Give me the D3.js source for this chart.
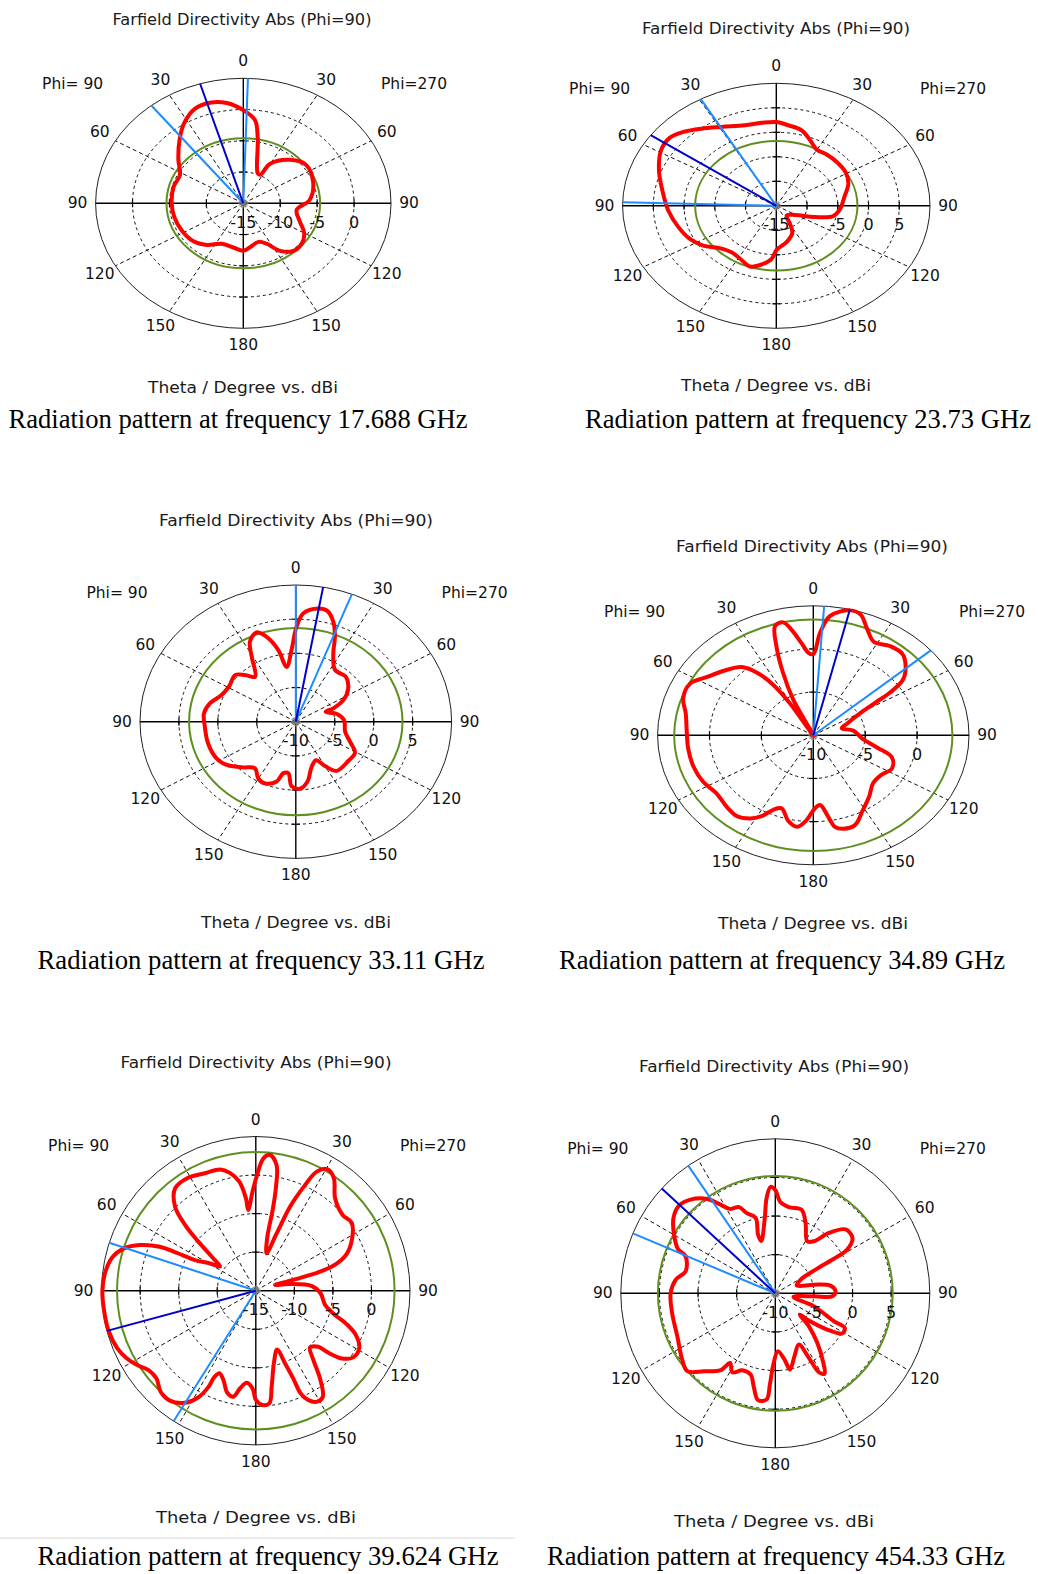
<!DOCTYPE html>
<html>
<head>
<meta charset="utf-8">
<script src="https://cdn.jsdelivr.net/npm/d3@7"></script>
<style>
  body { margin: 0; background: #fff; }
  svg { display: block; }
</style>
</head>
<body>
<div id="chart"></div>
<script>
const width = 1038;
const height = 1574;

// ---- data (theta in display degrees, clockwise from top; value in dBi) ----
const frequencies = ["17.688", "23.73", "33.11", "34.89", "39.624", "454.33"];
const dbMin = [-15, -15, -10, -10, -15, -10];
const dbMax = [5, 10, 10, 5, 5, 10];
const radialLabels = [
    [-15, -10, -5, 0],
    [-15, -5, 0, 5],
    [-10, -5, 0, 5],
    [-10, -5, 0],
    [-15, -10, -5, 0],
    [-10, -5, 0, 5]
];
const thetaLabels = [0, 30, 60, 90, 120, 150, 180];
const mainLobe = [343, 305.2, 10.1, 13.6, 254.9, 312.7];
const beamEdges = [[321.5, 1.8], [330.6, 271.7], [0, 21.1], [4.0, 49.0], [288.1, 212.2], [325.7, 292.8]];
const greenLevel = [-4.6, -1.8, 3.7, 3.4, 3.0, 5.2];

const pattern1 = [
    [352, 1.2], [0, -0.1], [6.8, -1.6], [10.6, -4.4], [22, -9.8], [26.5, -9.9], [29.9, -7.7],
    [42.3, -5.6], [54.4, -4.5], [71.3, -5.0], [86.6, -6.0], [98.4, -7.7], [110.9, -6.8],
    [119.8, -5.5], [129, -4.8], [138.2, -4.8], [146.8, -5.9], [154, -7.8], [161.6, -8.5],
    [172.7, -7.9], [180, -7.4], [190.9, -7.8], [204.3, -7.9], [216.7, -6.7], [228.4, -5.9],
    [242.4, -5.6], [257.2, -5.4], [270, -5.3], [285.7, -5.2], [297.9, -5.3], [308.3, -3.8],
    [319.5, -1.7], [327.9, 0.1], [336.7, 1.5], [344.3, 1.7]
];
const pattern2 = [
    [0, 2.1], [6.8, 1.55], [15, 0.95], [22, -0.45], [29.7, -1.75], [38, -1.7], [47.7, -1.7],
    [58.6, -1.8], [69, -2.45], [80.9, -3.8], [93.5, -4.6], [102.8, -5.5], [110, -8.3],
    [121.5, -11.4], [139.7, -12.4], [148.8, -10.7], [155, -8.85], [167.3, -7.4], [179.7, -6.0],
    [184, -4.15], [191.2, -2.8], [199, -1.9], [208.6, -2.7], [217.5, -3.05], [227.7, -2.25],
    [235.7, -0.6], [244.3, 0.6], [254.7, 1.5], [266.9, 2.6], [279.6, 3.8], [290.7, 5.4],
    [301.1, 6.9], [308.8, 7.2], [314.9, 6.35], [322.3, 4.9], [331, 3.4], [342.7, 2.2], [352, 2.1]
];
const pattern3 = [
    [3.5, 5.9], [9.9, 6.8], [14, 6.7], [18.2, 5.4], [22, 3.4], [25.7, 1.1], [33.6, -0.9],
    [44.4, -0.8], [54.1, -1.7], [62.5, -3.1], [67.9, -4.8], [69.4, -5.9], [77.9, -4.6],
    [87.8, -3.8], [103, -3.5], [112.8, -2.45], [120.9, -1.15], [130.5, -1.15], [143.9, -1.1],
    [150, -2.5], [155.3, -3.8], [162.8, -3.1], [170.4, -1.1], [176.8, -0.2], [183.3, -0.55],
    [187.2, -2.4], [192, -2.3], [195.7, -0.9], [203.7, -0.15], [210.1, -0.4], [217.5, -1.4],
    [225.3, -0.5], [234.5, 0.9], [242.2, 1.5], [254.2, 1.7], [266.4, 1.7], [275.9, 1.85],
    [283.7, 1.35], [292.3, 0.3], [301, 0.0], [311.2, 0.35], [316.3, -0.55], [321.5, -1.6],
    [329.3, 1.1], [333.3, 3.1], [338.9, 4.0], [343.9, 2.7], [347.9, 0.7], [351.7, -1.9],
    [357, 0.5], [0.4, 3.9]
];
const pattern4 = [
    [0, -0.6], [3.1, 1.85], [6.6, 3.9], [13.8, 4.9], [18.1, 4.7], [22.9, 3.35], [28.3, 2.3],
    [35.5, 2.7], [42.3, 2.75], [48.4, 1.9], [53.5, 0.7], [56.2, -1.1], [57.6, -2.8], [60.5, -4.8],
    [67.6, -6.5], [73.5, -7.15], [82, -6.1], [94.2, -5.3], [102.9, -3.7], [108.7, -2.0],
    [116.8, -1.5], [125, -2.0], [134, -2.0], [142.8, -1.1], [151.2, -0.1], [158.9, 1.15],
    [165, 1.2], [168.9, 0.8], [171.3, -0.45], [175.4, -1.9], [179.6, -1.4], [183.8, -0.15],
    [188.3, 0.7], [193.7, 0.2], [199.8, -1.0], [204.3, -0.5], [208, 0.6], [212.4, 1.4],
    [218.3, 1.9], [225.3, 1.75], [234.4, 1.5], [243.1, 1.9], [252.6, 2.1], [262.9, 2.15],
    [272, 2.2], [281.7, 2.55], [288.9, 3.25], [296.6, 3.3], [303.2, 2.3], [311.4, 1.35],
    [318.8, 0.5], [323.1, -0.9], [326.3, -2.75], [328.7, -5.65], [331, -10], [334.9, -5.5],
    [338, -2.25], [341, 0.9], [343.8, 3.2], [347.5, 3.4], [350.3, 2.4], [354, 0.7], [357.1, -0.4]
];
const pattern5 = [
    [0.4, -0.2], [3.3, 2.2], [6, 2.7], [9.4, 1.5], [11, -1.25], [11.8, -4.3], [12.1, -7.85],
    [16.1, -9.95], [20, -7.1], [22.2, -3.2], [24.7, -0.25], [27.1, 2.35], [30.6, 3.3],
    [34.8, 2.75], [40.6, 0.8], [48.9, -0.05], [54.7, 0.25], [62.1, -0.9], [68, -2.3],
    [71.6, -4.05], [73.5, -6.3], [73.9, -8.8], [73.8, -10.8], [73.4, -12.4], [79, -10.5],
    [85.3, -7.7], [92.3, -6.6], [101.7, -5.8], [107.1, -4.25], [110.2, -2.45], [113.9, -0.8],
    [119.1, 0.35], [124.4, 0.3], [128.2, -0.8], [130.5, -2.6], [131.9, -4.1], [136.4, -4.8],
    [140.3, -3.3], [143.8, -0.9], [147.8, 1.3], [151, 1.45], [154.3, 0.75], [156.4, -0.45],
    [156.9, -2.6], [158.1, -4.85], [160, -6.9], [166, -5.3], [170.6, -2.4], [173.1, -0.3],
    [176.6, -0.15], [179.9, -0.8], [181.9, -2.3], [185.6, -3.0], [189.2, -2.15], [192, -0.95],
    [195.6, -1.25], [200, -2.7], [203.8, -3.3], [205.7, -2.5], [206.2, -1.1], [208.3, 0.7],
    [212.3, 2.2], [218, 3.1], [223.3, 3.0], [228.5, 2.2], [233.5, 2.3], [238.1, 3.2],
    [242.4, 3.9], [247.4, 4.45], [255.1, 4.8], [262.8, 4.85], [269.7, 4.9], [276.5, 4.7],
    [283.1, 4.1], [287.8, 2.95], [291.5, 1.15], [294.6, -1.3], [295.7, -3.8], [296.7, -6.15],
    [300.8, -8.1], [303.9, -9.4], [307.7, -7.8], [310.5, -5.2], [312.9, -2.5], [316.1, 0.1],
    [321.7, 1.9], [328.4, 2.1], [336.6, 1.6], [343.6, 1.4], [347.6, 0.65], [351.4, -0.7],
    [353.9, -2.95], [354.6, -4.5], [358.1, -2.15]
];
const pattern6 = [
    [357.5, 3.8], [0.2, 3.3], [2.9, 1.9], [8.9, 1.3], [17.4, 1.35], [23.3, -0.1], [31.6, -2.1],
    [36.6, -1.6], [41.6, 0.45], [47.8, 2.3], [54.3, 2.3], [58.7, 0.9], [59.4, -1.4],
    [59.6, -3.95], [61.8, -6.3], [70, -7.05], [77.4, -4.9], [82.1, -2.8], [88.1, -2.2],
    [93, -2.6], [94.3, -5.0], [101.6, -7.6], [108.6, -4.7], [115.5, -1.6], [116.5, 0.05],
    [121, 0.1], [124.9, -1.8], [129.4, -4.6], [130.8, -5.8], [134.5, -3.9], [139.7, -1.6],
    [145.4, 0.95], [148.5, 2.2], [151, 1.7], [152.5, -0.55], [155.3, -2.7], [163, -1.5],
    [169.1, 0.05], [172, -1.3], [177.4, -2.5], [181.6, -0.75], [183.4, 1.85], [184.7, 3.8],
    [189.2, 4.0], [192.7, 2.55], [196.9, 1.0], [203.2, 0.85], [208.5, 1.65], [213, 0.75],
    [215.4, 2.2], [222.5, 3.7], [228.5, 5.2], [234.5, 4.8], [246.3, 3.85], [259.2, 3.6],
    [270, 3.55], [277.8, 3.0], [283.8, 1.95], [292.4, 2.55], [294.5, 3.85], [300.1, 5.15],
    [306.5, 6.4], [312.3, 6.85], [317.9, 6.35], [324.2, 5.05], [328.3, 3.5], [331.8, 2.4],
    [337.2, 2.1], [340.3, 1.05], [345.4, 0.1], [343.6, -2.1], [344.9, -3.0], [351.8, -0.35],
    [354.8, 2.4]
];
const patterns = [pattern1, pattern2, pattern3, pattern4, pattern5, pattern6];

// ---- layout of the six panels ----
const panels = [
    { cx: 243.3, cy: 203.3, rx: 147.7, ry: 125.0, title: [242, 25, 259], xlab: [243, 393, 190], cap: [238, 428, 459, 27] },
    { cx: 776.3, cy: 205.8, rx: 153.7, ry: 122.5, title: [776, 34, 268], xlab: [776, 391, 190], cap: [808, 428, 446, 27] },
    { cx: 295.8, cy: 721.7, rx: 155.8, ry: 136.7, title: [296, 526, 274], xlab: [296, 928, 190], cap: [261, 969, 447, 27] },
    { cx: 813.3, cy: 735.3, rx: 155.7, ry: 129.5, title: [812, 552, 272], xlab: [813, 929, 190], cap: [782, 969, 446, 27] },
    { cx: 255.8, cy: 1290.7, rx: 154.2, ry: 154.2, title: [256, 1068, 271], xlab: [256, 1523, 200], cap: [268, 1565, 461, 28] },
    { cx: 775.3, cy: 1293.3, rx: 154.5, ry: 154.5, title: [774, 1072, 270], xlab: [774, 1527, 200], cap: [776, 1565, 458, 28] }
];

const angle = d3.scaleLinear().domain([0, 360]).range([0, 2 * Math.PI]);
const uiFont = "'DejaVu Sans', Verdana, sans-serif";

const svg = d3.select("#chart")
    .append("svg")
    .attr("width", width)
    .attr("height", height);

svg.append("rect").attr("width", width).attr("height", height).attr("fill", "#fff");

// faint separator under the lower left panel
svg.append("line")
    .attr("x1", 0).attr("x2", 515).attr("y1", 1538).attr("y2", 1538)
    .attr("stroke", "#e4e4e4").attr("stroke-width", 1.5);

panels.forEach((p, i) => drawPanel(p, i));

function drawPanel(p, i) {
    const g = svg.append("g");
    const r = d3.scaleLinear().domain([dbMin[i], dbMax[i]]).range([0, 1]).clamp(true);
    const rings = d3.range(dbMin[i] + 5, dbMax[i], 5);
    const spokes = [30, 60, 120, 150, 210, 240, 300, 330];

    // point on the (elliptical) polar grid, k = normalised radius
    const at = (a, k) => {
        const t = angle(a);
        return [p.cx + p.rx * k * Math.sin(t), p.cy - p.ry * k * Math.cos(t)];
    };

    // dashed rings
    g.selectAll(".ring")
        .data(rings)
        .join("ellipse")
        .attr("class", "ring")
        .attr("cx", p.cx).attr("cy", p.cy)
        .attr("rx", d => p.rx * r(d))
        .attr("ry", d => p.ry * r(d))
        .attr("fill", "none")
        .attr("stroke", "#111")
        .attr("stroke-width", 1)
        .attr("stroke-dasharray", "3,3");

    // dashed spokes
    g.selectAll(".spoke")
        .data(spokes)
        .join("line")
        .attr("class", "spoke")
        .attr("x1", p.cx).attr("y1", p.cy)
        .attr("x2", d => at(d, 1)[0])
        .attr("y2", d => at(d, 1)[1])
        .attr("stroke", "#111")
        .attr("stroke-width", 1)
        .attr("stroke-dasharray", "4,3");

    // outer boundary
    g.append("ellipse")
        .attr("cx", p.cx).attr("cy", p.cy)
        .attr("rx", p.rx).attr("ry", p.ry)
        .attr("fill", "none")
        .attr("stroke", "#222")
        .attr("stroke-width", 1);

    // main axes
    [0, 90].forEach(a => {
        const p1 = at(a, 1), p2 = at(a + 180, 1);
        g.append("line")
            .attr("x1", p1[0]).attr("y1", p1[1])
            .attr("x2", p2[0]).attr("y2", p2[1])
            .attr("stroke", "#000")
            .attr("stroke-width", 1.4);
    });

    // small ticks on the axes at each ring
    const tickData = [];
    rings.forEach(v => [0, 90, 180, 270].forEach(a => tickData.push({ a, v })));
    g.selectAll(".tick")
        .data(tickData)
        .join("line")
        .attr("class", "tick")
        .attr("x1", d => at(d.a, r(d.v))[0] - (d.a % 180 === 0 ? 4 : 0))
        .attr("x2", d => at(d.a, r(d.v))[0] + (d.a % 180 === 0 ? 4 : 0))
        .attr("y1", d => at(d.a, r(d.v))[1] - (d.a % 180 === 0 ? 0 : 4))
        .attr("y2", d => at(d.a, r(d.v))[1] + (d.a % 180 === 0 ? 0 : 4))
        .attr("stroke", "#000")
        .attr("stroke-width", 1.2);

    // little star at the centre
    g.selectAll(".star")
        .data(d3.range(0, 180, 22.5))
        .join("line")
        .attr("class", "star")
        .attr("x1", d => p.cx - 5 * Math.sin(angle(d)))
        .attr("y1", d => p.cy + 5 * Math.cos(angle(d)))
        .attr("x2", d => p.cx + 5 * Math.sin(angle(d)))
        .attr("y2", d => p.cy - 5 * Math.cos(angle(d)))
        .attr("stroke", "#8a8a8a")
        .attr("stroke-width", 0.8);

    // green level circle
    g.append("ellipse")
        .attr("cx", p.cx).attr("cy", p.cy)
        .attr("rx", p.rx * r(greenLevel[i]))
        .attr("ry", p.ry * r(greenLevel[i]))
        .attr("fill", "none")
        .attr("stroke", "#5f8f1f")
        .attr("stroke-width", 2);

    // pattern
    const line = d3.line()
        .x(d => at(d[0], r(d[1]))[0])
        .y(d => at(d[0], r(d[1]))[1])
        .curve(d3.curveCatmullRomClosed.alpha(0.5));

    g.append("path")
        .datum(patterns[i])
        .attr("d", line)
        .attr("fill", "none")
        .attr("stroke", "#ff0000")
        .attr("stroke-width", 4)
        .attr("stroke-linejoin", "round");

    // beam width lines and main lobe direction
    g.selectAll(".beam")
        .data(beamEdges[i])
        .join("line")
        .attr("class", "beam")
        .attr("x1", p.cx).attr("y1", p.cy)
        .attr("x2", d => at(d, 1)[0])
        .attr("y2", d => at(d, 1)[1])
        .attr("stroke", "#1e8cff")
        .attr("stroke-width", 2);

    g.append("line")
        .attr("x1", p.cx).attr("y1", p.cy)
        .attr("x2", at(mainLobe[i], 1)[0])
        .attr("y2", at(mainLobe[i], 1)[1])
        .attr("stroke", "#0000c8")
        .attr("stroke-width", 2);

    // theta labels on both halves
    const labelData = [];
    thetaLabels.forEach(t => {
        labelData.push({ a: t, t });
        if (t > 0 && t < 180) labelData.push({ a: 360 - t, t });
    });
    g.selectAll(".theta")
        .data(labelData)
        .join("text")
        .attr("class", "theta")
        .attr("x", d => p.cx + (p.rx + 18) * Math.sin(angle(d.a)))
        .attr("y", d => p.cy - (p.ry + 17) * Math.cos(angle(d.a)))
        .attr("text-anchor", "middle")
        .attr("dominant-baseline", "central")
        .style("font-family", uiFont)
        .style("font-size", "15.5px")
        .attr("fill", "#111")
        .text(d => d.t);

    const phiY = p.cy - (p.ry + 17) * Math.cos(angle(30)) + 4;
    g.append("text")
        .attr("x", p.cx - p.rx - 23).attr("y", phiY)
        .attr("text-anchor", "middle").attr("dominant-baseline", "central")
        .style("font-family", uiFont).style("font-size", "15.5px")
        .attr("fill", "#111")
        .text("Phi= 90");
    g.append("text")
        .attr("x", p.cx + p.rx + 23).attr("y", phiY)
        .attr("text-anchor", "middle").attr("dominant-baseline", "central")
        .style("font-family", uiFont).style("font-size", "15.5px")
        .attr("fill", "#111")
        .text("Phi=270");

    // radial dB labels
    g.selectAll(".rlab")
        .data(radialLabels[i])
        .join("text")
        .attr("class", "rlab")
        .attr("x", d => p.cx + p.rx * r(d))
        .attr("y", p.cy + 19)
        .attr("text-anchor", "middle")
        .attr("dominant-baseline", "central")
        .style("font-family", uiFont)
        .style("font-size", "16px")
        .attr("fill", "#111")
        .text(d => d);

    // title, axis caption, figure caption
    g.append("text")
        .attr("x", p.title[0]).attr("y", p.title[1])
        .attr("text-anchor", "middle")
        .attr("textLength", p.title[2]).attr("lengthAdjust", "spacingAndGlyphs")
        .style("font-family", uiFont).style("font-size", "16px")
        .attr("fill", "#1a1a1a")
        .text("Farfield Directivity Abs (Phi=90)");

    g.append("text")
        .attr("x", p.xlab[0]).attr("y", p.xlab[1])
        .attr("text-anchor", "middle")
        .attr("textLength", p.xlab[2]).attr("lengthAdjust", "spacingAndGlyphs")
        .style("font-family", uiFont).style("font-size", "16px")
        .attr("fill", "#1a1a1a")
        .text("Theta / Degree vs. dBi");

    g.append("text")
        .attr("x", p.cap[0]).attr("y", p.cap[1])
        .attr("text-anchor", "middle")
        .attr("textLength", p.cap[2]).attr("lengthAdjust", "spacingAndGlyphs")
        .style("font-family", "'Liberation Serif', 'Times New Roman', serif")
        .style("font-size", p.cap[3] + "px")
        .attr("fill", "#000")
        .text(`Radiation pattern at frequency ${frequencies[i]} GHz`);
}
</script>
</body>
</html>
